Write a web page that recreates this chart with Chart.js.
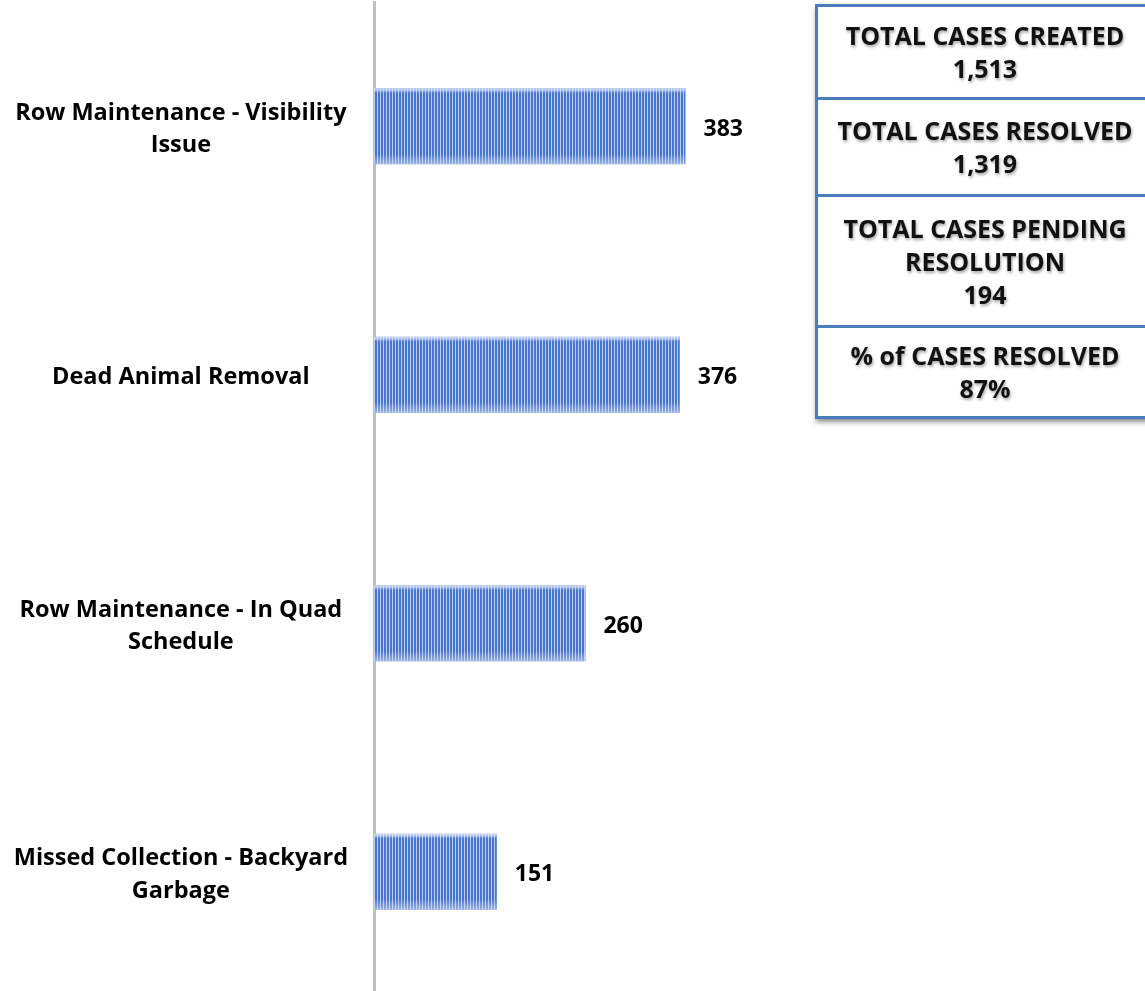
<!DOCTYPE html>
<html>
<head>
<meta charset="utf-8">
<script src="https://cdn.jsdelivr.net/npm/chart.js@4"></script>
<style>
  html, body { margin: 0; padding: 0; background: #fff; overflow: hidden; }
  #wrap { position: relative; width: 1145px; height: 991px; }
  #wrap canvas { position: absolute; left: 0; top: 0; }
  .stats {
    position: absolute; left: 815px; top: 4px; width: 340px;
    border: 3px solid #4a7ebb; box-sizing: border-box;
    box-shadow: 1px 3px 5px rgba(0,0,0,0.45);
    background: #fff;
    font-family: "Open Sans", Lato, sans-serif; font-weight: 700; font-size: 25px;
    color: #111; text-align: center; line-height: 33px;
  }
  .stats div {
    display: flex; flex-direction: column; justify-content: center;
    text-shadow: 1px 2px 3px rgba(0,0,0,0.35);
  }
  .stats div + div { border-top: 3px solid #4a7ebb; }
</style>
</head>
<body>
<div id="wrap">
  <canvas id="chart" width="1145" height="996"></canvas>
  <div class="stats" id="stats"></div>
</div>
<script>
const categories = [
  ['Row Maintenance - Visibility', 'Issue'],
  'Dead Animal Removal',
  ['Row Maintenance - In Quad', 'Schedule'],
  ['Missed Collection - Backyard', 'Garbage']
];
const caseCounts = [383, 376, 260, 151];

const statLabels = [
  ['TOTAL CASES CREATED'],
  ['TOTAL CASES RESOLVED'],
  ['TOTAL CASES PENDING', 'RESOLUTION'],
  ['% of CASES RESOLVED']
];
const statValues = ['1,513', '1,319', '194', '87%'];
const statHeights = [90, 94, 128, 88];

// stats box on the right
const stats = document.getElementById('stats');
stats.innerHTML = statLabels.map((lines, i) => `
  <div style="height:${statHeights[i]}px;">${lines.map(l => `<span>${l}</span>`).join('')}<span>${statValues[i]}</span></div>
`).join('');

// vertical stripe fill like the original bars
function stripePattern(ctx) {
  const c = document.createElement('canvas');
  c.width = 3; c.height = 4;
  const p = c.getContext('2d');
  p.fillStyle = '#bccdee';
  p.fillRect(0, 0, 3, 4);
  p.fillStyle = '#4876cc';
  p.fillRect(0, 0, 2, 4);
  return ctx.createPattern(c, 'repeat');
}

// light sheen on the top and bottom edge of each bar, plus the value text
const barExtras = {
  id: 'barExtras',
  afterDatasetsDraw(chart) {
    const ctx = chart.ctx;
    const meta = chart.getDatasetMeta(0);
    ctx.save();
    meta.data.forEach((bar) => {
      const top = bar.y - bar.height / 2;
      const left = bar.base;
      const w = bar.x - bar.base;
      const g = ctx.createLinearGradient(0, top, 0, top + bar.height);
      g.addColorStop(0, 'rgba(220,228,244,0.95)');
      g.addColorStop(0.03, 'rgba(220,228,244,0.6)');
      g.addColorStop(0.06, 'rgba(220,228,244,0)');
      g.addColorStop(0.86, 'rgba(220,228,244,0)');
      g.addColorStop(1, 'rgba(220,228,244,0.55)');
      ctx.fillStyle = g;
      ctx.fillRect(left, top, w, bar.height);
    });
    ctx.font = 'bold 23px "Open Sans", Lato, sans-serif';
    ctx.fillStyle = '#000';
    ctx.textAlign = 'left';
    ctx.textBaseline = 'middle';
    meta.data.forEach((bar, i) => {
      ctx.fillText(caseCounts[i], bar.x + 18, bar.y + 3);
    });
    ctx.restore();
  }
};

const canvas = document.getElementById('chart');
new Chart(canvas, {
  type: 'bar',
  data: {
    labels: categories,
    datasets: [{
      data: caseCounts,
      backgroundColor: stripePattern(canvas.getContext('2d')),
      borderWidth: 0,
      categoryPercentage: 1,
      barPercentage: 0.305
    }]
  },
  options: {
    indexAxis: 'y',
    responsive: false,
    animation: false,
    layout: { padding: { top: 2, bottom: 0, left: 0, right: 0 } },
    plugins: {
      legend: { display: false },
      tooltip: { enabled: false }
    },
    scales: {
      x: {
        display: false,
        min: 0,
        max: 948
      },
      y: {
        z: 1,
        afterFit: (scale) => {
          scale.width = 374;
          scale.paddingTop = 0;
          scale.paddingBottom = 0;
        },
        grid: { display: false, drawTicks: false },
        border: { display: true, color: '#bfbfbf', width: 3 },
        ticks: {
          crossAlign: 'center',
          padding: 26,
          labelOffset: 3,
          color: '#000',
          font: { family: '"Open Sans", Lato, sans-serif', weight: 'bold', size: 23.5, lineHeight: 1.38 }
        }
      }
    }
  },
  plugins: [barExtras]
});
</script>
</body>
</html>
